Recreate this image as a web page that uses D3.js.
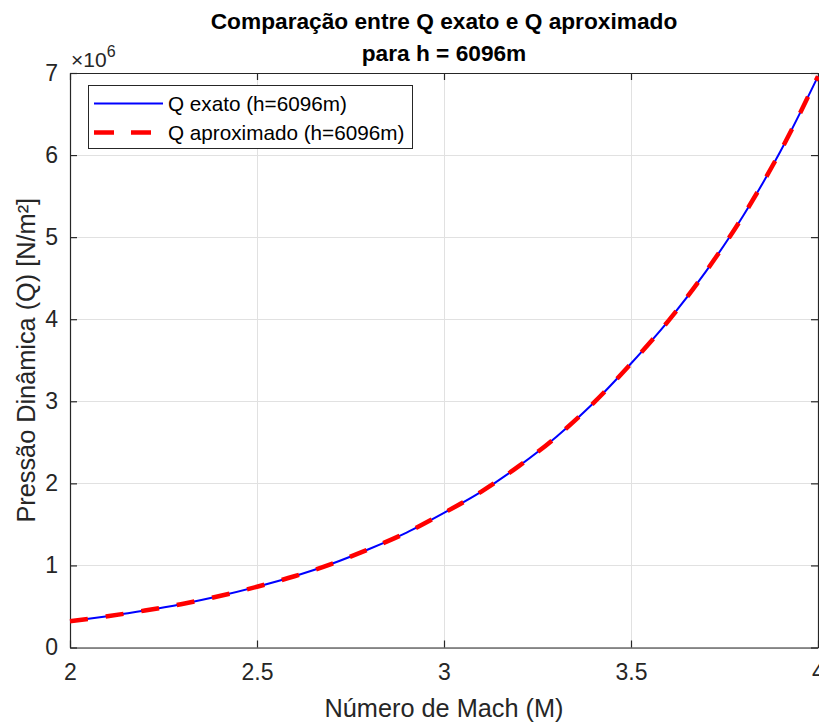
<!DOCTYPE html>
<html>
<head>
<meta charset="utf-8">
<script src="https://cdn.jsdelivr.net/npm/d3@7"></script>
<style>
  html, body { margin: 0; padding: 0; background: #fff; }
  svg { display: block; font-family: "Liberation Sans", Arial, Helvetica, sans-serif; }
</style>
</head>
<body>
<svg id="chart" width="819" height="722"></svg>
<script>
// Mach numbers and dynamic pressure (N/m², units of 1e6)
const mach = [2.0, 2.1, 2.2, 2.3, 2.4, 2.5, 2.6, 2.7, 2.8, 2.9, 3.0,
              3.1, 3.2, 3.3, 3.4, 3.5, 3.6, 3.7, 3.8, 3.9, 4.0];
const qExato = [0.320, 0.381, 0.450, 0.531, 0.627, 0.740, 0.868, 1.020, 1.200, 1.400, 1.640,
                1.900, 2.210, 2.565, 2.980, 3.460, 3.980, 4.580, 5.260, 6.050, 6.960];
const qAprox = [0.320, 0.381, 0.450, 0.531, 0.627, 0.740, 0.868, 1.020, 1.200, 1.400, 1.640,
                1.900, 2.210, 2.565, 2.980, 3.460, 3.980, 4.580, 5.260, 6.050, 6.960];
const xTicks = [2, 2.5, 3, 3.5, 4];
const yTicks = [0, 1, 2, 3, 4, 5, 6, 7];
const seriesNames = ["Q exato (h=6096m)", "Q aproximado (h=6096m)"];
const titleLines = ["Comparação entre Q exato e Q aproximado", "para h = 6096m"];

const svg = d3.select("#chart");
const plotL = 70, plotR = 818, plotT = 73, plotB = 647.5;
const axisColor = "#262626";
const tickFont = 23, labelFont = 25.3;

const x = d3.scaleLinear().domain([2, 4]).range([plotL, plotR]);
const y = d3.scaleLinear().domain([0, 7]).range([plotB, plotT]);

// grid
const grid = svg.append("g").attr("stroke", "#e1e1e1").attr("stroke-width", 1);
grid.selectAll(".gx").data(xTicks).join("line")
  .attr("x1", d => Math.round(x(d)) + 0.5).attr("x2", d => Math.round(x(d)) + 0.5)
  .attr("y1", plotT).attr("y2", plotB);
grid.selectAll(".gy").data(yTicks).join("line")
  .attr("y1", d => Math.round(y(d)) + 0.5).attr("y2", d => Math.round(y(d)) + 0.5)
  .attr("x1", plotL).attr("x2", plotR);

// axes with inward ticks, boxed on all sides
const fmt = d => String(d);
const xAxis = svg.append("g").attr("transform", `translate(0,${plotB})`)
  .call(d3.axisBottom(x).tickValues(xTicks).tickFormat(fmt).tickSizeInner(-7).tickSizeOuter(0).tickPadding(16));
const xAxisTop = svg.append("g").attr("transform", `translate(0,${plotT})`)
  .call(d3.axisTop(x).tickValues(xTicks).tickFormat("").tickSizeInner(-7).tickSizeOuter(0));
const yAxis = svg.append("g").attr("transform", `translate(${plotL},0)`)
  .call(d3.axisLeft(y).tickValues(yTicks).tickFormat(fmt).tickSizeInner(-7).tickSizeOuter(0).tickPadding(12));
const yAxisRight = svg.append("g").attr("transform", `translate(${plotR},0)`)
  .call(d3.axisRight(y).tickValues(yTicks).tickFormat("").tickSizeInner(-7).tickSizeOuter(0));

[xAxis, xAxisTop, yAxis, yAxisRight].forEach(g => {
  g.select(".domain").attr("stroke", axisColor).attr("stroke-width", 1.2);
  g.selectAll(".tick line").attr("stroke", axisColor).attr("stroke-width", 1.2);
  g.selectAll(".tick text").attr("fill", axisColor).attr("font-size", tickFont)
    .attr("font-family", "'Liberation Sans', Arial, sans-serif");
});

// curves
const line = vals => d3.line()
  .x((d, i) => x(mach[i]))
  .y(d => y(d))
  .curve(d3.curveMonotoneX)(vals);

svg.append("path").attr("d", line(qExato))
  .attr("fill", "none").attr("stroke", "#0000ff").attr("stroke-width", 2);
svg.append("path").attr("d", line(qAprox))
  .attr("fill", "none").attr("stroke", "#ff0000").attr("stroke-width", 4.5)
  .attr("stroke-dasharray", "18,18");

// exponent label
const expo = svg.append("text").attr("x", 71).attr("y", 67)
  .attr("fill", axisColor).style("font-size", "21px");
expo.append("tspan").text("×10");
expo.append("tspan").style("font-size", "16px").attr("dy", -10).text("6");

// title
svg.append("g").selectAll("text").data(titleLines).join("text")
  .attr("x", (plotL + plotR) / 2).attr("y", (d, i) => 29 + i * 31.5)
  .attr("text-anchor", "middle").attr("font-weight", "bold")
  .attr("font-size", 22.7).attr("fill", "#000").text(d => d);

// axis labels
svg.append("text").attr("x", (plotL + plotR) / 2).attr("y", 717)
  .attr("text-anchor", "middle").attr("font-size", labelFont).attr("fill", axisColor)
  .text("Número de Mach (M)");
svg.append("text")
  .attr("transform", `translate(35,${(plotT + plotB) / 2}) rotate(-90)`)
  .attr("text-anchor", "middle").attr("font-size", labelFont).attr("fill", axisColor)
  .text("Pressão Dinâmica (Q) [N/m²]");

// legend
const lg = svg.append("g");
lg.append("rect").attr("x", 88.5).attr("y", 85.5).attr("width", 324).attr("height", 63)
  .attr("fill", "#fff").attr("stroke", axisColor).attr("stroke-width", 1);
const legendStyles = [
  { color: "#0000ff", width: 2, dash: null },
  { color: "#ff0000", width: 4.5, dash: "20,17" }
];
seriesNames.forEach((name, i) => {
  const yy = 103.5 + i * 29;
  lg.append("line").attr("x1", 94).attr("x2", 163).attr("y1", yy).attr("y2", yy)
    .attr("stroke", legendStyles[i].color).attr("stroke-width", legendStyles[i].width)
    .attr("stroke-dasharray", legendStyles[i].dash);
  lg.append("text").attr("x", 168).attr("y", yy + 7.5)
    .attr("font-size", 20.7).attr("fill", "#000").text(name);
});
</script>
</body>
</html>
